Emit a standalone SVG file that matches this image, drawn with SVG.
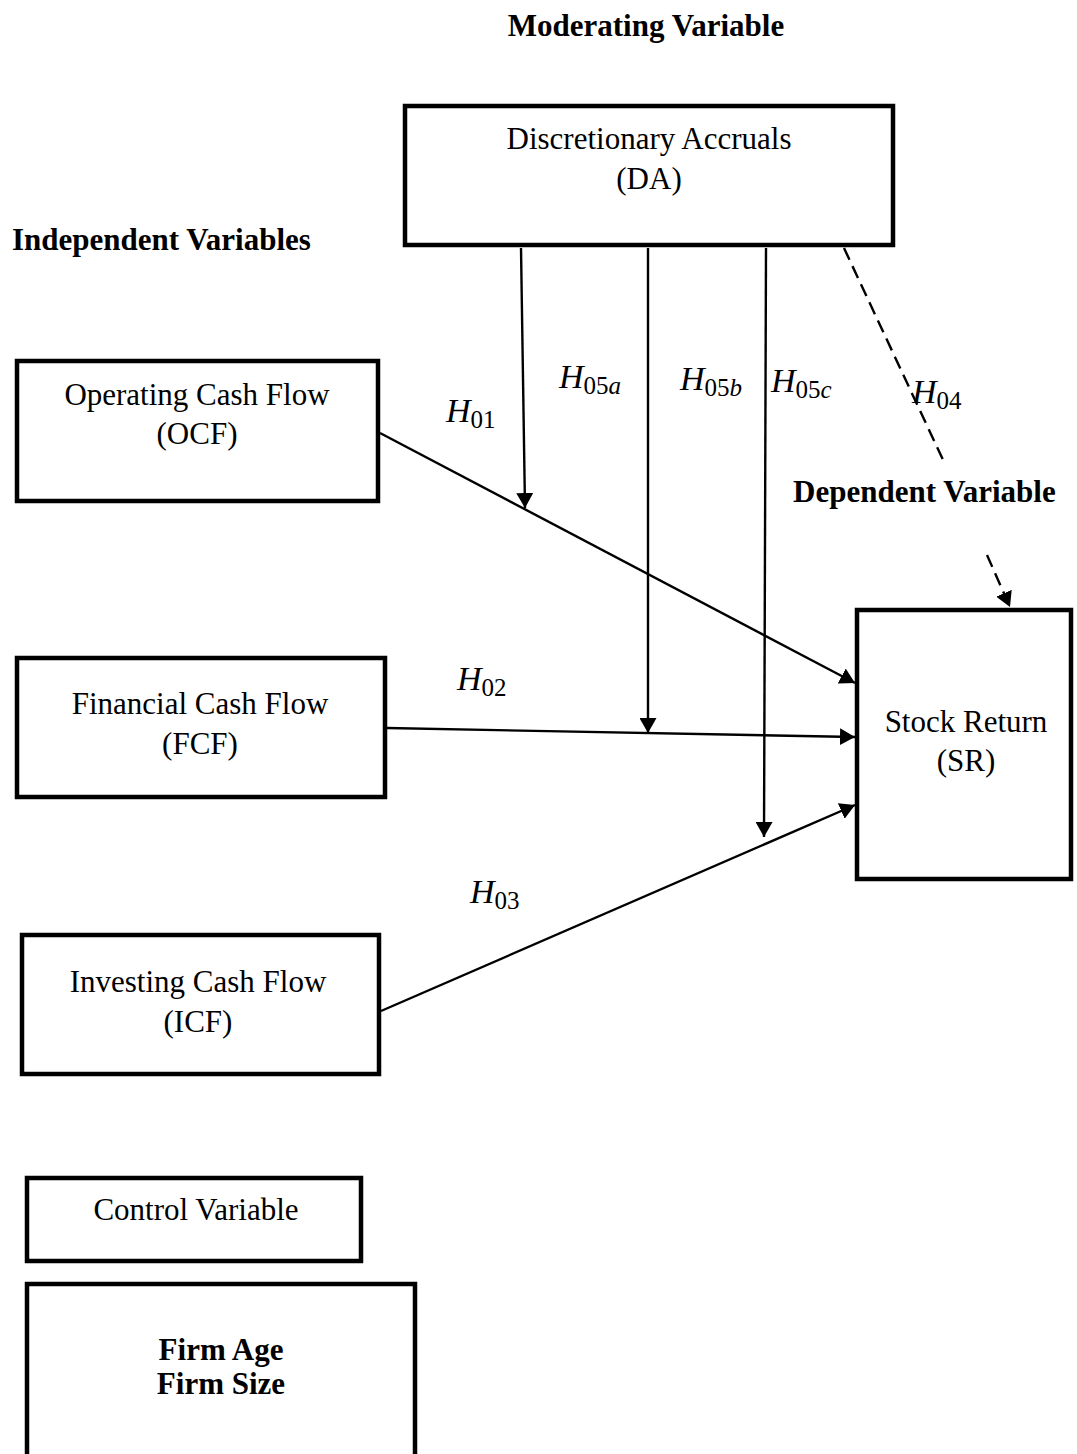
<svg xmlns="http://www.w3.org/2000/svg" width="1077" height="1454" viewBox="0 0 1077 1454">
<style>
  .box { fill: #fff; stroke: #000; stroke-width: 4.5; }
  .t { font-family: "Liberation Serif", "Times New Roman", serif; font-size: 31px; fill: #000; text-anchor: middle; }
  .b { font-family: "Liberation Serif", "Times New Roman", serif; font-size: 31px; font-weight: bold; fill: #000; }
  .h { font-family: "Liberation Serif", "Times New Roman", serif; font-size: 34px; font-style: italic; fill: #000; }
  .sub { font-size: 25px; font-style: normal; }
  .it { font-style: italic; }
  .ln { stroke: #000; stroke-width: 2.4; fill: none; }
  .dash { stroke: #000; stroke-width: 2.4; fill: none; stroke-dasharray: 13 7; }
</style>
<defs>
  <marker id="arr" markerUnits="userSpaceOnUse" markerWidth="17" markerHeight="17" refX="15" refY="8.5" orient="auto">
    <path d="M0,0 L15,8.5 L0,17 z" fill="#000"/>
  </marker>
</defs>
<rect width="1077" height="1454" fill="#fff"/>

<g id="headings">
  <text class="b" x="646" y="36" text-anchor="middle">Moderating Variable</text>
  <text class="b" x="12" y="250">Independent Variables</text>
</g>

<g id="connectors">
  <line class="ln" x1="380" y1="433" x2="855" y2="683" marker-end="url(#arr)"/>
  <line class="ln" x1="387" y1="728" x2="855" y2="737" marker-end="url(#arr)"/>
  <line class="ln" x1="381" y1="1011" x2="855" y2="805" marker-end="url(#arr)"/>
  <line class="ln" x1="521" y1="248" x2="525" y2="508" marker-end="url(#arr)"/>
  <line class="ln" x1="648" y1="248" x2="648" y2="733" marker-end="url(#arr)"/>
  <line class="ln" x1="766" y1="248" x2="764" y2="837" marker-end="url(#arr)"/>
  <line class="dash" x1="844" y1="248" x2="944" y2="462"/>
  <line class="dash" x1="987" y1="555" x2="1010" y2="607" marker-end="url(#arr)"/>
</g>

<g id="labels">
  <text class="h" x="446" y="422">H<tspan class="sub" dy="6">01</tspan></text>
  <text class="h" x="457" y="690">H<tspan class="sub" dy="6">02</tspan></text>
  <text class="h" x="470" y="903">H<tspan class="sub" dy="6">03</tspan></text>
  <text class="h" x="912" y="403">H<tspan class="sub" dy="6">04</tspan></text>
  <text class="h" x="559" y="388">H<tspan class="sub" dy="6">05<tspan class="it">a</tspan></tspan></text>
  <text class="h" x="680" y="390">H<tspan class="sub" dy="6">05<tspan class="it">b</tspan></tspan></text>
  <text class="h" x="771" y="392">H<tspan class="sub" dy="6">05<tspan class="it">c</tspan></tspan></text>
</g>

<g id="node-da">
  <rect class="box" x="405" y="106" width="488" height="139"/>
  <text class="t" x="649" y="149">Discretionary Accruals</text>
  <text class="t" x="649" y="189">(DA)</text>
</g>

<g id="node-ocf">
  <rect class="box" x="17" y="361" width="361" height="140"/>
  <text class="t" x="197" y="405">Operating Cash Flow</text>
  <text class="t" x="197" y="444">(OCF)</text>
</g>

<g id="node-fcf">
  <rect class="box" x="17" y="658" width="368" height="139"/>
  <text class="t" x="200" y="714">Financial Cash Flow</text>
  <text class="t" x="200" y="754">(FCF)</text>
</g>

<g id="node-icf">
  <rect class="box" x="22" y="935" width="357" height="139"/>
  <text class="t" x="198" y="992">Investing Cash Flow</text>
  <text class="t" x="198" y="1032">(ICF)</text>
</g>

<g id="node-dependent-label">
  <text class="b" x="793" y="502">Dependent Variable</text>
</g>

<g id="node-sr">
  <rect class="box" x="857" y="610" width="214" height="269"/>
  <text class="t" x="966" y="732">Stock Return</text>
  <text class="t" x="966" y="771">(SR)</text>
</g>

<g id="node-control">
  <rect class="box" x="27" y="1178" width="334" height="83"/>
  <text class="t" x="196" y="1220">Control Variable</text>
</g>

<g id="node-firm">
  <rect class="box" x="27" y="1284" width="388" height="200"/>
  <text class="b" x="221" y="1360" text-anchor="middle">Firm Age</text>
  <text class="b" x="221" y="1394" text-anchor="middle">Firm Size</text>
</g>
</svg>
